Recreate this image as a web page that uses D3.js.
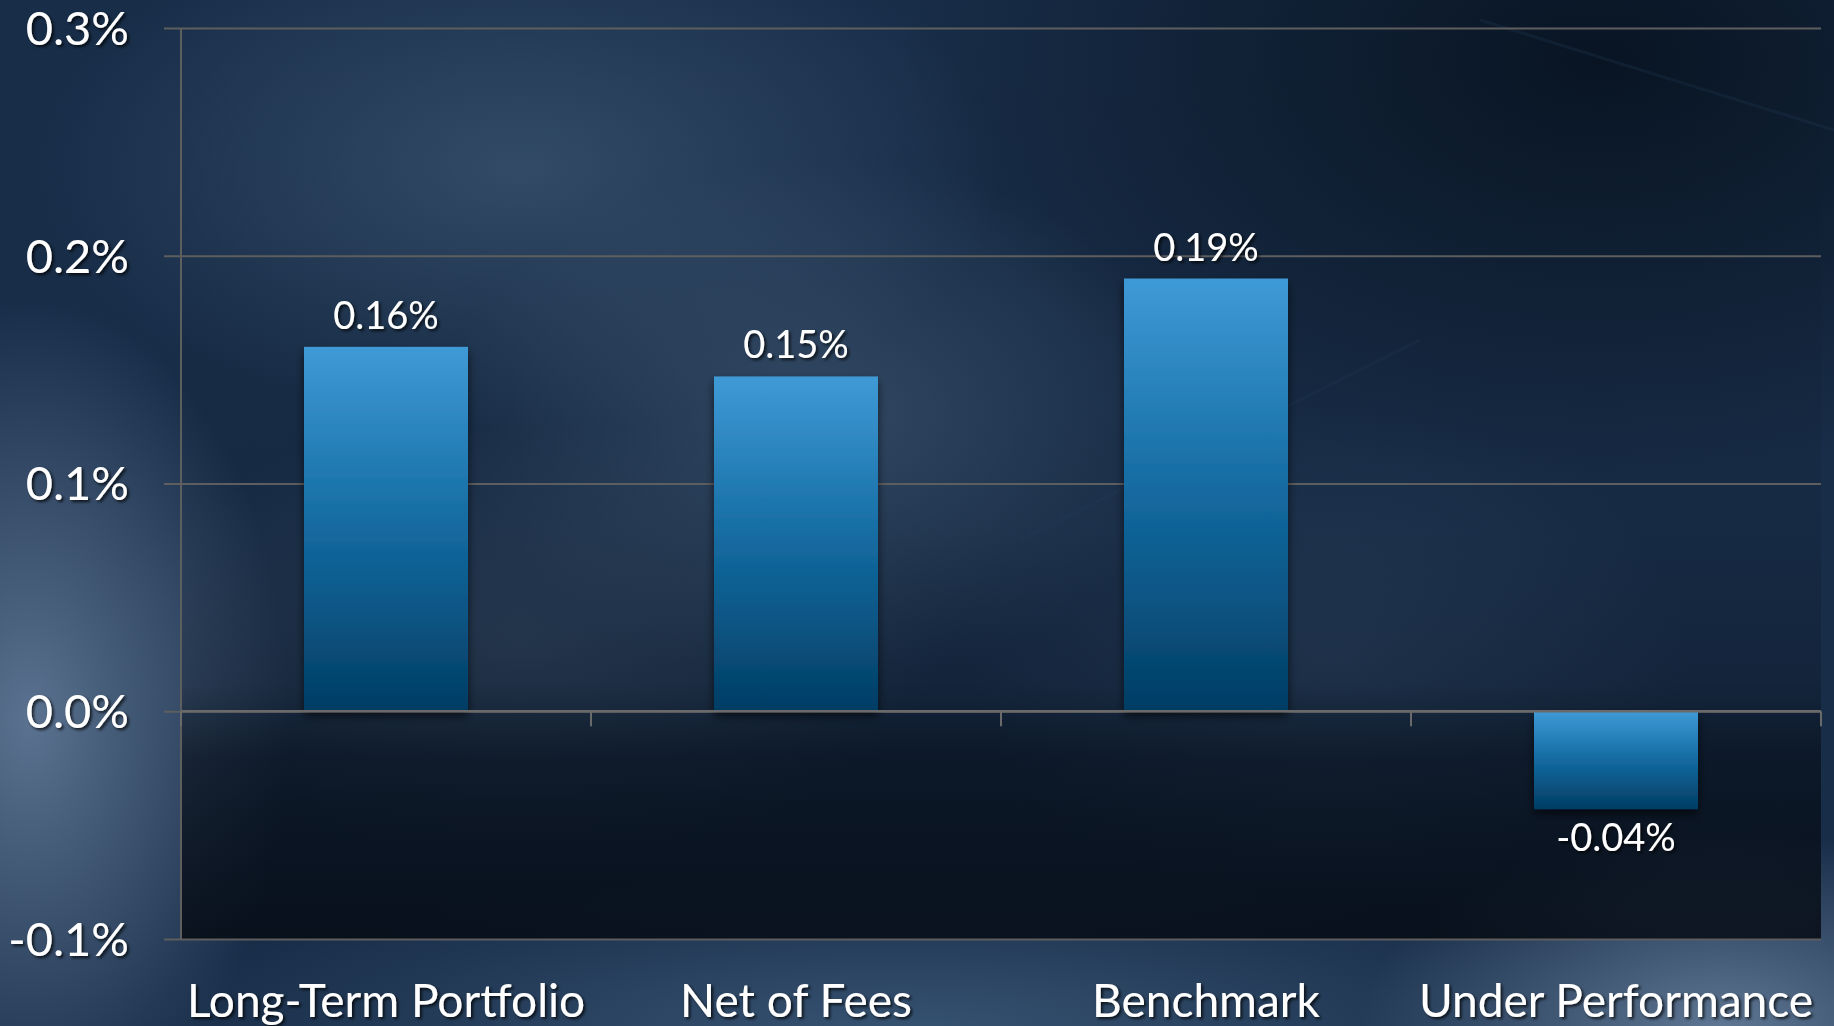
<!DOCTYPE html>
<html>
<head>
<meta charset="utf-8">
<script src="https://cdn.jsdelivr.net/npm/d3@7"></script>
<style>
  html, body { margin: 0; padding: 0; background: #162a44; overflow: hidden; }
  svg { display: block; }
  text { font-family: Lato, "Open Sans", sans-serif; fill: #ffffff; }
</style>
</head>
<body>
<svg id="chart" width="1834" height="1026"></svg>
<script>
// chart data
var categories = ["Long-Term Portfolio", "Net of Fees", "Benchmark", "Under Performance"];
var values = [0.16, 0.147, 0.19, -0.043];
var valueLabels = ["0.16%", "0.15%", "0.19%", "-0.04%"];
var yTicks = [-0.1, 0.0, 0.1, 0.2, 0.3];
var yTickLabels = ["-0.1%", "0.0%", "0.1%", "0.2%", "0.3%"];

var svg = d3.select("#chart"),
    W = +svg.attr("width"),
    H = +svg.attr("height"),
    margin = {top: 28, right: 13, bottom: 87, left: 181},
    width = W - margin.left - margin.right,
    height = H - margin.top - margin.bottom;

var defs = svg.append("defs");

// ---- background (stormy blue sky) ----
function radial(id, cx, cy, rx, ry, color, op) {
  var g = defs.append("radialGradient").attr("id", id)
      .attr("gradientUnits", "userSpaceOnUse")
      .attr("cx", cx).attr("cy", cy).attr("r", rx)
      .attr("gradientTransform", "translate(" + cx + "," + cy + ") scale(1," + (ry / rx) + ") translate(" + (-cx) + "," + (-cy) + ")");
  g.append("stop").attr("offset", "0%").attr("stop-color", color).attr("stop-opacity", op);
  g.append("stop").attr("offset", "100%").attr("stop-color", color).attr("stop-opacity", 0);
}
radial("bgTopRight", 1600, 60, 700, 420, "#06101c", 0.85);
radial("bgTopLeft", 520, 170, 480, 260, "#3f5a78", 0.7);
radial("bgMid", 820, 420, 380, 260, "#4a6480", 0.6);
radial("bgLowMid", 520, 640, 420, 220, "#3b5068", 0.55);
radial("bgRightMid", 1330, 660, 360, 260, "#2f4866", 0.55);
radial("bgBotMid", 900, 1030, 760, 160, "#3e5c7c", 0.8);
radial("bgBotRight", 1720, 1030, 360, 200, "#6c85a2", 0.85);
radial("bgLeft", 30, 720, 260, 420, "#627a98", 0.9);

svg.append("rect").attr("width", W).attr("height", H).attr("fill", "#182d48");
["bgTopRight", "bgTopLeft", "bgMid", "bgLowMid", "bgRightMid", "bgBotMid", "bgLeft", "bgBotRight"].forEach(function(id) {
  svg.append("rect").attr("width", W).attr("height", H).attr("fill", "url(#" + id + ")");
});

// faint streaks in the sky
svg.append("line").attr("x1", 1480).attr("y1", 20).attr("x2", 1834).attr("y2", 130)
    .attr("stroke", "#2c4866").attr("stroke-width", 3).attr("opacity", 0.2);
svg.append("line").attr("x1", 1020).attr("y1", 540).attr("x2", 1420).attr("y2", 340)
    .attr("stroke", "#2c4866").attr("stroke-width", 3).attr("opacity", 0.15);

// scales
var x = d3.scaleBand()
    .domain(categories)
    .range([0, width])
    .paddingInner(0.6)
    .paddingOuter(0.3);

var y = d3.scaleLinear()
    .domain([-0.1, 0.3])
    .range([height, 0]);

var g = svg.append("g").attr("transform", "translate(" + margin.left + "," + margin.top + ")");

// plot area darkening toward the bottom
var plotGrad = defs.append("linearGradient").attr("id", "plotShade")
    .attr("x1", 0).attr("y1", 0).attr("x2", 0).attr("y2", 1);
plotGrad.append("stop").attr("offset", "0%").attr("stop-color", "#050b14").attr("stop-opacity", 0.0);
plotGrad.append("stop").attr("offset", "55%").attr("stop-color", "#050b14").attr("stop-opacity", 0.1);
plotGrad.append("stop").attr("offset", "72%").attr("stop-color", "#050b14").attr("stop-opacity", 0.25);
plotGrad.append("stop").attr("offset", "80%").attr("stop-color", "#050b14").attr("stop-opacity", 0.6);
plotGrad.append("stop").attr("offset", "100%").attr("stop-color", "#050b14").attr("stop-opacity", 0.85);

g.append("rect")
    .attr("width", width)
    .attr("height", height)
    .attr("fill", "url(#plotShade)");

// gridlines + y tick labels
var shadow = defs.append("filter").attr("id", "txtShadow")
    .attr("x", "-20%").attr("y", "-30%").attr("width", "140%").attr("height", "160%");
shadow.append("feDropShadow").attr("dx", 2).attr("dy", 2).attr("stdDeviation", 1.5)
    .attr("flood-color", "#000").attr("flood-opacity", 0.75);

var yAxis = g.append("g")
    .attr("class", "axis")
    .call(d3.axisLeft(y).tickValues(yTicks).tickSize(-width).tickPadding(52)
      .tickFormat(function(d, i) { return yTickLabels[i]; }));
yAxis.select(".domain").remove();
yAxis.selectAll(".tick line").attr("stroke", "#5e5e5e").attr("stroke-width", 2);
yAxis.selectAll(".tick text")
    .attr("fill", "#fff")
    .attr("font-size", 47)
    .attr("dy", "0.35em")
    .attr("filter", "url(#txtShadow)");
// little stubs left of the plot area
yAxis.selectAll(".tick").append("line")
    .attr("x1", -17).attr("x2", 0)
    .attr("stroke", "#5e5e5e").attr("stroke-width", 2);

// left axis line
g.append("line")
    .attr("x1", 0).attr("x2", 0)
    .attr("y1", 0).attr("y2", height)
    .attr("stroke", "#5e5e5e").attr("stroke-width", 2);

// bars
var barGrad = defs.append("linearGradient").attr("id", "barGrad")
    .attr("x1", 0).attr("y1", 0).attr("x2", 0).attr("y2", 1);
barGrad.append("stop").attr("offset", "0%").attr("stop-color", "#3f9ad6");
barGrad.append("stop").attr("offset", "50%").attr("stop-color", "#136aa0");
barGrad.append("stop").attr("offset", "100%").attr("stop-color", "#023d64");

var barShadow = defs.append("filter").attr("id", "barShadow")
    .attr("x", "-20%").attr("y", "-10%").attr("width", "140%").attr("height", "130%");
barShadow.append("feDropShadow").attr("dx", 0).attr("dy", 5).attr("stdDeviation", 5)
    .attr("flood-color", "#000").attr("flood-opacity", 0.6);

g.append("g")
  .selectAll("rect")
  .data(values)
  .enter()
  .append("rect")
    .attr("x", function(d, i) { return x(categories[i]); })
    .attr("y", function(d) { return y(Math.max(0, d)); })
    .attr("width", x.bandwidth())
    .attr("height", function(d) { return Math.abs(y(d) - y(0)); })
    .attr("fill", "url(#barGrad)")
    .attr("filter", "url(#barShadow)");

// zero axis with ticks between categories
var zero = g.append("g").attr("transform", "translate(0," + y(0) + ")");
zero.append("line")
    .attr("x1", 0).attr("x2", width)
    .attr("stroke", "#6a6a6a").attr("stroke-width", 2.5);
zero.selectAll(".tk")
  .data(d3.range(categories.length + 1))
  .enter()
  .append("line")
    .attr("class", "tk")
    .attr("x1", function(i) { return i * x.step(); })
    .attr("x2", function(i) { return i * x.step(); })
    .attr("y1", 0).attr("y2", 15)
    .attr("stroke", "#6a6a6a").attr("stroke-width", 2);

// value labels
g.append("g")
  .selectAll("text")
  .data(values)
  .enter()
  .append("text")
    .attr("x", function(d, i) { return x(categories[i]) + x.bandwidth() / 2; })
    .attr("y", function(d) { return d >= 0 ? y(d) - 18 : y(d) + 42; })
    .attr("text-anchor", "middle")
    .attr("font-size", 38)
    .attr("filter", "url(#txtShadow)")
    .text(function(d, i) { return valueLabels[i]; });

// category labels
g.append("g")
  .selectAll("text")
  .data(categories)
  .enter()
  .append("text")
    .attr("x", function(d) { return x(d) + x.bandwidth() / 2; })
    .attr("y", height + 78)
    .attr("text-anchor", "middle")
    .attr("font-size", 46)
    .attr("filter", "url(#txtShadow)")
    .text(function(d) { return d; });
</script>
</body>
</html>
